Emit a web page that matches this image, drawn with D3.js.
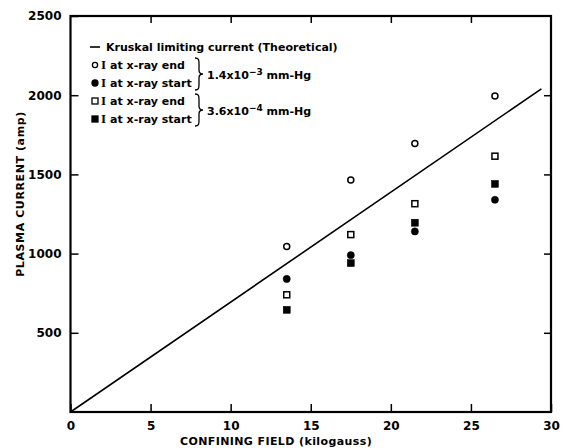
<!DOCTYPE html>
<html>
<head>
<meta charset="utf-8">
<script src="https://cdn.jsdelivr.net/npm/d3@7"></script>
<style>
  body { margin: 0; background: #fff; }
  svg { display: block; font-family: "DejaVu Sans", sans-serif; font-weight: bold; }
</style>
</head>
<body>
<svg id="chart" width="568" height="448"></svg>
<script>
// data
const field = [13.5, 17.5, 21.5, 26.5]
const endHighP = [1045, 1465, 1695, 1995]    // open circles, 1.4x10-3 mm-Hg
const startHighP = [840, 990, 1140, 1340]    // filled circles
const endLowP = [740, 1120, 1315, 1615]      // open squares, 3.6x10-4 mm-Hg
const startLowP = [645, 940, 1195, 1440]     // filled squares
const kruskalLine = [[0, 0], [29.4, 2040]]
const xTicks = [0, 5, 10, 15, 20, 25, 30]
const yTicks = [500, 1000, 1500, 2000, 2500]

const svg = d3.select('#chart')
const x = d3.scaleLinear().domain([0, 30]).range([70.5, 551])
const y = d3.scaleLinear().domain([0, 2500]).range([412, 16])

// bottom axis, ticks pointing in
const bottomAxis = svg.append('g')
  .attr('transform', `translate(0, ${y(0)})`)
  .call(d3.axisBottom(x).tickValues(xTicks).tickSize(-8).tickPadding(9).tickFormat(d3.format('d')))
bottomAxis.select('.domain').remove()

const leftAxis = svg.append('g')
  .attr('transform', `translate(${x(0)}, 0)`)
  .call(d3.axisLeft(y).tickValues(yTicks).tickSize(-8).tickPadding(9).tickFormat(d3.format('d')))
leftAxis.select('.domain').remove()

const topAxis = svg.append('g')
  .attr('transform', `translate(0, ${y(2500)})`)
  .call(d3.axisTop(x).tickValues([5, 10, 15, 20, 25]).tickSize(-7).tickFormat(''))
topAxis.select('.domain').remove()

const rightAxis = svg.append('g')
  .attr('transform', `translate(${x(30)}, 0)`)
  .call(d3.axisRight(y).tickValues([500, 1000, 1500, 2000]).tickSize(-7).tickFormat(''))
rightAxis.select('.domain').remove()

svg.selectAll('.tick line').attr('stroke', '#000').attr('stroke-width', 1.5)
svg.selectAll('.tick text')
  .attr('fill', '#000')
  .style('font-size', '12px')
  .style('font-family', '"DejaVu Sans", sans-serif')
  .style('font-weight', 'bold')

// frame
svg.append('rect')
  .attr('x', x(0)).attr('y', y(2500))
  .attr('width', x(30) - x(0)).attr('height', y(0) - y(2500))
  .attr('fill', 'none').attr('stroke', '#000').attr('stroke-width', 2.2)

// theoretical line
svg.append('path')
  .datum(kruskalLine)
  .attr('d', d3.line().x(d => x(d[0])).y(d => y(d[1])))
  .attr('fill', 'none').attr('stroke', '#000').attr('stroke-width', 1.6)

const pts = vals => vals.map((v, i) => ({ f: field[i], v: v }))

const drawCircles = (vals, filled) => {
  svg.append('g').selectAll('circle')
    .data(pts(vals))
    .enter()
    .append('circle')
    .attr('cx', d => x(d.f))
    .attr('cy', d => y(d.v))
    .attr('r', filled ? 3.6 : 3)
    .attr('fill', filled ? '#000' : '#fff')
    .attr('stroke', '#000')
    .attr('stroke-width', filled ? 0.5 : 1.5)
}

const drawSquares = (vals, filled) => {
  const s = filled ? 7 : 6
  svg.append('g').selectAll('rect')
    .data(pts(vals))
    .enter()
    .append('rect')
    .attr('x', d => x(d.f) - s / 2)
    .attr('y', d => y(d.v) - s / 2)
    .attr('width', s).attr('height', s)
    .attr('fill', filled ? '#000' : '#fff')
    .attr('stroke', '#000')
    .attr('stroke-width', filled ? 0.5 : 1.5)
}

drawCircles(endHighP, false)
drawCircles(startHighP, true)
drawSquares(endLowP, false)
drawSquares(startLowP, true)

// axis titles
svg.append('text')
  .attr('x', 276).attr('y', 445)
  .attr('text-anchor', 'middle')
  .style('font-size', '11px')
  .attr('letter-spacing', '0.4')
  .text('CONFINING FIELD (kilogauss)')

svg.append('text')
  .attr('transform', 'translate(24, 194) rotate(-90)')
  .attr('text-anchor', 'middle')
  .style('font-size', '11px')
  .attr('letter-spacing', '0.6')
  .text('PLASMA CURRENT (amp)')

// legend
const legend = svg.append('g').style('font-size', '11px')
legend.append('line')
  .attr('x1', 90).attr('x2', 100).attr('y1', 47).attr('y2', 47)
  .attr('stroke', '#000').attr('stroke-width', 1.6)
legend.append('text').attr('x', 106).attr('y', 51).text('Kruskal limiting current (Theoretical)')

const rows = [
  { y: 65, text: 'at x-ray end', shape: 'circle', filled: false },
  { y: 83, text: 'at x-ray start', shape: 'circle', filled: true },
  { y: 101, text: 'at x-ray end', shape: 'square', filled: false },
  { y: 119, text: 'at x-ray start', shape: 'square', filled: true }
]

rows.forEach(r => {
  if (r.shape === 'circle') {
    legend.append('circle')
      .attr('cx', 95).attr('cy', r.y).attr('r', r.filled ? 3 : 2.6)
      .attr('fill', r.filled ? '#000' : '#fff').attr('stroke', '#000').attr('stroke-width', 1.3)
  } else {
    legend.append('rect')
      .attr('x', 92).attr('y', r.y - 3).attr('width', 6).attr('height', 6)
      .attr('fill', r.filled ? '#000' : '#fff').attr('stroke', '#000').attr('stroke-width', 1.3)
  }
  const t = legend.append('text').attr('x', 101).attr('y', r.y + 4)
  t.append('tspan').style('font-family', '"Liberation Serif", serif').style('font-size', '13px').text('I')
  t.append('tspan').attr('dx', 4).text(r.text)
})

// braces
const brace = (x0, yTop, yBot) => {
  const ym = (yTop + yBot) / 2
  return `M${x0},${yTop} C${x0 + 4},${yTop} ${x0 + 4},${yTop + 2} ${x0 + 4},${yTop + 6}` +
    ` L${x0 + 4},${ym - 4} C${x0 + 4},${ym - 1} ${x0 + 6},${ym} ${x0 + 8},${ym}` +
    ` C${x0 + 6},${ym} ${x0 + 4},${ym + 1} ${x0 + 4},${ym + 4}` +
    ` L${x0 + 4},${yBot - 6} C${x0 + 4},${yBot - 2} ${x0 + 4},${yBot} ${x0},${yBot}`
}
legend.append('path').attr('d', brace(195, 58, 90))
  .attr('fill', 'none').attr('stroke', '#000').attr('stroke-width', 1.3)
legend.append('path').attr('d', brace(195, 94, 126))
  .attr('fill', 'none').attr('stroke', '#000').attr('stroke-width', 1.3)

const pressure = (yy, mant, exp) => {
  const t = legend.append('text').attr('x', 207).attr('y', yy)
  t.append('tspan').text(mant + 'x10')
  t.append('tspan').attr('dy', -4).style('font-size', '9px').text('−' + exp)
  t.append('tspan').attr('dy', 4).text(' mm-Hg')
}
pressure(79, '1.4', '3')
pressure(115, '3.6', '4')
</script>
</body>
</html>
